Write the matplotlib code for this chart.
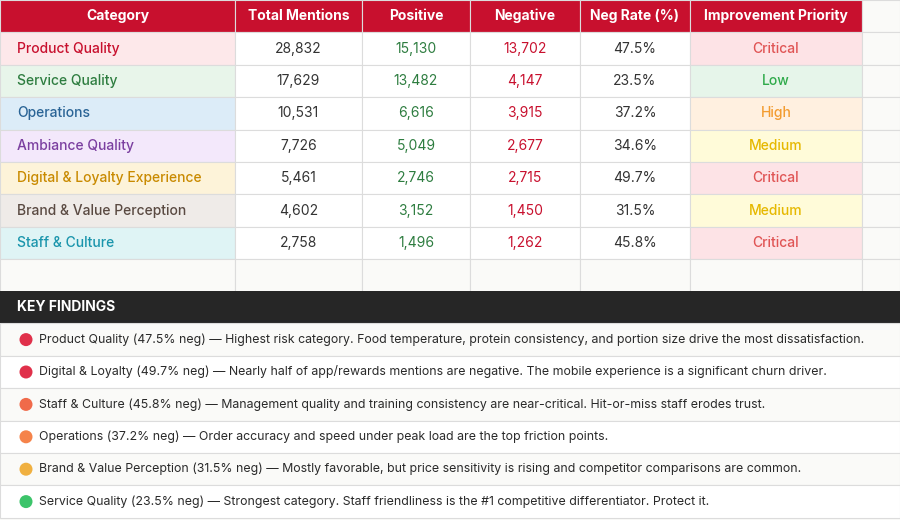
import matplotlib
matplotlib.use("Agg")
import matplotlib.pyplot as plt
from matplotlib.patches import Rectangle, Circle

plt.rcParams['font.family'] = ['Inter', 'DejaVu Sans']

headers = ["Category", "Total Mentions", "Positive", "Negative", "Neg Rate (%)", "Improvement Priority"]
categories = ["Product Quality", "Service Quality", "Operations", "Ambiance Quality",
              "Digital & Loyalty Experience", "Brand & Value Perception", "Staff & Culture"]
total = [28832, 17629, 10531, 7726, 5461, 4602, 2758]
positive = [15130, 13482, 6616, 5049, 2746, 3152, 1496]
negative = [13702, 4147, 3915, 2677, 2715, 1450, 1262]
neg_rate = [47.5, 23.5, 37.2, 34.6, 49.7, 31.5, 45.8]
priority = ["Critical", "Low", "High", "Medium", "Critical", "Medium", "Critical"]
findings = [
    "Product Quality (47.5% neg) \u2014 Highest risk category. Food temperature, protein consistency, and portion size drive the most dissatisfaction.",
    "Digital & Loyalty (49.7% neg) \u2014 Nearly half of app/rewards mentions are negative. The mobile experience is a significant churn driver.",
    "Staff & Culture (45.8% neg) \u2014 Management quality and training consistency are near-critical. Hit-or-miss staff erodes trust.",
    "Operations (37.2% neg) \u2014 Order accuracy and speed under peak load are the top friction points.",
    "Brand & Value Perception (31.5% neg) \u2014 Mostly favorable, but price sensitivity is rising and competitor comparisons are common.",
    "Service Quality (23.5% neg) \u2014 Strongest category. Staff friendliness is the #1 competitive differentiator. Protect it.",
]
dot_colors = ["#e0304a", "#e0304a", "#f06a4a", "#f5834a", "#f0b040", "#3cc46a"]

cat_bg = ["#fde8ea", "#e8f5ea", "#dcecf8", "#f3e8fb", "#fdf3d9", "#efebe8", "#dff4f5"]
cat_fg = ["#c8102e", "#2e7d40", "#2a6496", "#7b3fa0", "#c98a00", "#5a4a42", "#1a95ac"]
prio_style = {"Critical": ("#fde3e6", "#e05555"), "Low": ("#e6f5ea", "#2eaa4a"),
              "High": ("#fff0e0", "#f39c30"), "Medium": ("#fffbd9", "#e6b800")}

W, H = 900, 520
fig = plt.figure(figsize=(9, 5.2), dpi=100)
ax = fig.add_axes([0, 0, 1, 1])
ax.set_xlim(0, W); ax.set_ylim(H, 0); ax.axis('off')
fig.patch.set_facecolor("#fafaf8")

cols = [0, 235, 362, 470, 580, 690, 862, 900]
rh = 32.4
grid = "#dcdcdc"

def rect(x0, y0, x1, y1, fc):
    ax.add_patch(Rectangle((x0, y0), x1 - x0, y1 - y0, facecolor=fc, edgecolor=grid, lw=0.8))

# header
for i, h in enumerate(headers):
    rect(cols[i], 0, cols[i+1], rh, "#c8102e")
    ax.text((cols[i] + cols[i+1]) / 2, rh / 2, h, color="white", fontsize=10,
            fontweight="bold", ha="center", va="center")
rect(cols[6], 0, cols[7], rh, "#fafaf8")

for r in range(len(categories)):
    y0 = rh * (r + 1); y1 = y0 + rh; yc = (y0 + y1) / 2
    rect(cols[0], y0, cols[1], y1, cat_bg[r])
    ax.text(17, yc, categories[r], color=cat_fg[r], fontsize=10, fontweight="medium", va="center")
    vals = [f"{total[r]:,}", f"{positive[r]:,}", f"{negative[r]:,}", f"{neg_rate[r]:.1f}%"]
    colors = ["#333333", "#2e7d40", "#c8102e", "#333333"]
    for j in range(4):
        rect(cols[j+1], y0, cols[j+2], y1, "white")
        ax.text((cols[j+1] + cols[j+2]) / 2, yc, vals[j], color=colors[j], fontsize=10,
                ha="center", va="center")
    bg, fg = prio_style[priority[r]]
    rect(cols[5], y0, cols[6], y1, bg)
    ax.text((cols[5] + cols[6]) / 2, yc, priority[r], color=fg, fontsize=10,
            fontweight="medium", ha="center", va="center")
    rect(cols[6], y0, cols[7], y1, "#fafaf8")

# empty row
y0 = rh * 8
for j in range(7):
    rect(cols[j], y0, cols[j+1], y0 + rh, "#fafaf8")

# key findings
ky = 291
ax.add_patch(Rectangle((0, ky), W, rh, facecolor="#262626", edgecolor="none"))
ax.text(17, ky + rh / 2, "KEY FINDINGS", color="white", fontsize=10, fontweight="bold", va="center")
for i, f in enumerate(findings):
    y0 = ky + rh * (i + 1)
    ax.add_patch(Rectangle((0, y0), W, rh, facecolor="#fafaf8" if i % 2 == 0 else "white",
                           edgecolor=grid, lw=0.8))
    ax.add_patch(Circle((26, y0 + rh / 2), 6.5, facecolor=dot_colors[i], edgecolor="none"))
    ax.text(39, y0 + rh / 2, f, color="#2a2a2a", fontsize=8.9, va="center")

fig.savefig("out.png", dpi=100, facecolor=fig.get_facecolor())
